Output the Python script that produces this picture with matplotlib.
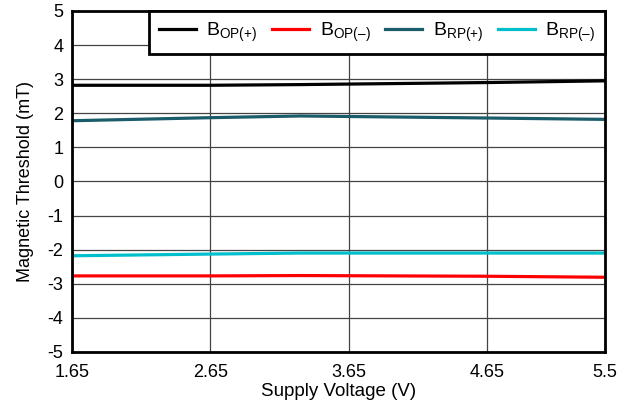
import matplotlib
matplotlib.use('Agg')
import matplotlib.pyplot as plt

plt.rcParams['font.family'] = ['Liberation Sans', 'DejaVu Sans']
plt.rcParams['mathtext.fontset'] = 'custom'
plt.rcParams['mathtext.rm'] = 'Liberation Sans'
plt.rcParams['axes.unicode_minus'] = False

# 数据
voltage = [1.65, 2.65, 3.3, 4.65, 5.5]
bop_pos = [2.82, 2.82, 2.84, 2.90, 2.95]
bop_neg = [-2.77, -2.77, -2.76, -2.78, -2.81]
brp_pos = [1.78, 1.87, 1.92, 1.86, 1.82]
brp_neg = [-2.18, -2.13, -2.10, -2.10, -2.10]

x_ticks = [1.65, 2.65, 3.65, 4.65, 5.5]
x_tick_labels = ['1.65', '2.65', '3.65', '4.65', '5.5']
y_ticks = list(range(-5, 6))

fig = plt.figure(figsize=(6.31, 4.05), dpi=100)
ax = fig.add_axes([0.114, 0.131, 0.845, 0.842])

ax.plot(voltage, bop_pos, color='black', lw=2.3, label=r'B$\mathregular{_{OP(+)}}$')
ax.plot(voltage, bop_neg, color='#ff0000', lw=2.3, label=r'B$\mathregular{_{OP(–)}}$')
ax.plot(voltage, brp_pos, color='#1b5c6b', lw=2.3, label=r'B$\mathregular{_{RP(+)}}$')
ax.plot(voltage, brp_neg, color='#00bfcc', lw=2.3, label=r'B$\mathregular{_{RP(–)}}$')

ax.set_xlim(1.65, 5.5)
ax.set_ylim(-5, 5)
ax.set_xticks(x_ticks)
ax.set_xticklabels(x_tick_labels)
ax.set_yticks(y_ticks)
ax.tick_params(length=0, labelsize=13)
ax.tick_params(axis='y', pad=6)
ax.tick_params(axis='x', pad=9)
ax.grid(True, color='#444444', lw=0.9)
for s in ax.spines.values():
    s.set_linewidth(2)

ax.set_xlabel('Supply Voltage (V)', fontsize=13.5, labelpad=1)
ax.set_ylabel('Magnetic Threshold (mT)', fontsize=13, labelpad=10)

leg = ax.legend(loc='upper right', ncol=4, fontsize=14, frameon=True, fancybox=False,
                borderaxespad=0, handlelength=1.9, columnspacing=0.75, handletextpad=0.55,
                borderpad=0.5, framealpha=1)
leg.get_frame().set_edgecolor('black')
leg.get_frame().set_linewidth(2)

plt.savefig('out.png', dpi=100)
